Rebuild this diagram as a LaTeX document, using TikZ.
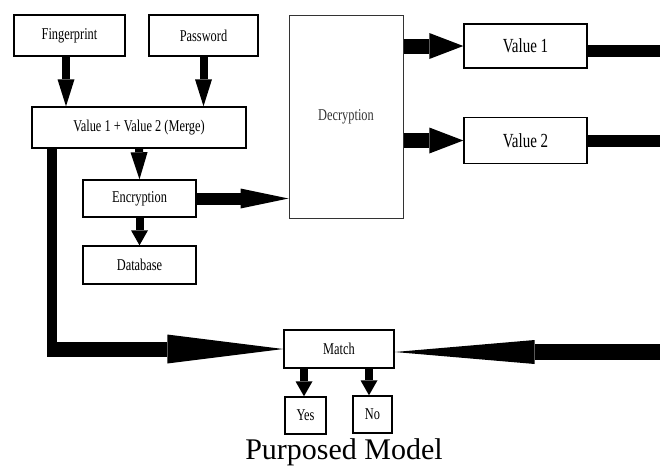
\documentclass[tikz,border=0pt]{standalone}
\usepackage{fontspec}
\setmainfont{Liberation Serif}
\newfontfamily\narrowfont[FakeStretch=0.75]{Liberation Serif}
\usetikzlibrary{arrows.meta}

\begin{document}
\begin{tikzpicture}[
		x=1pt,y=-1pt,
		every node/.style={font=\narrowfont\fontsize{16.5}{19}\selectfont},
		block/.style={draw, line width=1.4pt, inner sep=0pt},
		valblock/.style={block, font=\narrowfont\fontsize{20}{22}\selectfont},
		downarrow/.style={line width=8pt, -{Triangle[length=27pt,width=17pt,line width=0pt]}},
		shortdown/.style={line width=8pt, -{Triangle[length=15pt,width=17pt,line width=0pt]}},
		sidearrow/.style={line width=15pt, -{Triangle[length=34pt,width=26pt,line width=0pt]}},
		fatline/.style={line width=12pt}
		]
		\useasboundingbox (0,0) rectangle (660,466);
		
		% =========================
		% Left: inputs, merge, encryption
		% =========================
		\node[block, minimum width=111, minimum height=41] (finger) at (69.5,35.5) {Fingerprint};
		\node[block, minimum width=109, minimum height=41] (pass) at (203.5,35.5) {Password};
		\node[block, minimum width=214, minimum height=41] (merge) at (139,127.5) {Value 1 + Value 2 (Merge)};
		\node[block, minimum width=113, minimum height=37] (enc) at (139.5,198.5) {Encryption};
		\node[block, minimum width=113, minimum height=38] (db) at (139.5,265) {Database};
		
		\draw[downarrow] ([xshift=-3.5pt]finger.south) -- ([xshift=-3.5pt]finger.south |- merge.north);
		\draw[downarrow] (pass.south) -- (pass.south |- merge.north);
		\draw[downarrow] (merge.south) -- (enc.north);
		\draw[shortdown] (enc.south) -- (db.north);
		
		% =========================
		% Right: decryption and values
		% =========================
		\node[draw, line width=1pt, draw=black!80, text=black!80, inner sep=0pt,
		minimum width=114, minimum height=203] (dec) at (346,116.5) {Decryption};
		\node[valblock, minimum width=123, minimum height=44] (val1) at (525.5,46) {Value 1};
		\node[valblock, minimum width=123, minimum height=46] (val2) at (525.5,140.5) {Value 2};
		
		\draw[line width=12pt, -{Triangle[length=48pt,width=20pt,line width=0pt]}] (enc.east) -- (enc.east -| dec.west);
		\draw[sidearrow] (val1.west -| dec.east) -- (val1.west);
		\draw[sidearrow] (val2.west -| dec.east) -- (val2.west);
		
		\coordinate (rim) at (660,0);
		\draw[fatline] ([yshift=-5pt]val1.east) -- ([yshift=-5pt]val1.east -| rim);
		\draw[fatline] (val2.east) -- (val2.east -| rim);
		
		% =========================
		% Bottom: match and result
		% =========================
		\node[block, minimum width=110, minimum height=38] (match) at (339,349) {Match};
		\node[block, minimum width=41, minimum height=37] (yes) at (305.5,415.5) {Yes};
		\node[block, minimum width=39, minimum height=37] (no) at (372.5,414.5) {No};
		
		\coordinate (bend) at (52,356.5);
		\coordinate (bendL) at (47,349);
		\coordinate (rimR) at (660,352);
		\draw[line width=10pt] (merge.south -| bend) -- (bend);
		\draw[line width=15pt, -{Triangle[length=116pt,width=29pt,line width=0pt]}] (bendL) -- (match.west);
		\draw[line width=16pt, -{Triangle[length=140pt,width=24pt,line width=0pt]}] (rimR) -- (rimR -| match.east);
		
		\draw[shortdown] ([xshift=-1.5pt]yes.north |- match.south) -- ([xshift=-1.5pt]yes.north);
		\draw[shortdown] ([xshift=-3.5pt]no.north |- match.south) -- ([xshift=-3.5pt]no.north);
		
		% caption
		\node[anchor=base, font=\fontsize{30}{33}\selectfont] (caption) at (344,459) {Purposed Model};
	\end{tikzpicture}
\end{document}
